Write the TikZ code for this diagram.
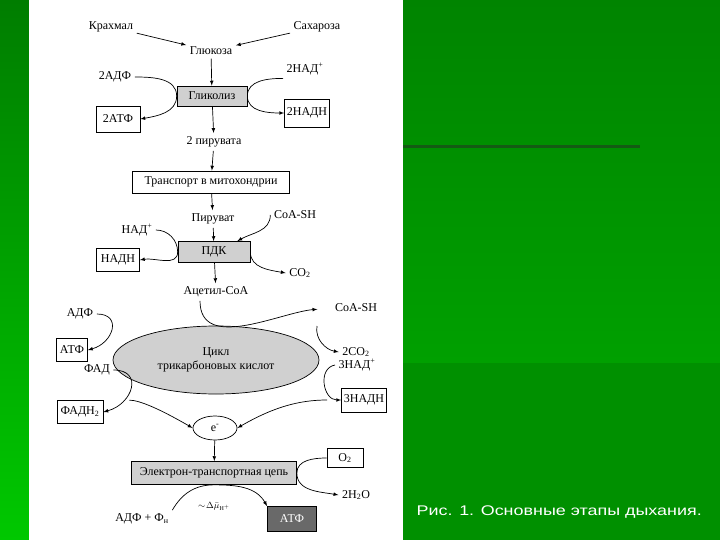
\documentclass[tikz,border=0pt]{standalone}
\usepackage{fontspec}
\setmainfont{Liberation Serif}
\newfontfamily\capfont{Liberation Sans}
\usepackage{tikz}
\usetikzlibrary{shapes.geometric, arrows, positioning}
\definecolor{boxgray}{RGB}{208,208,208}
\definecolor{atpgray}{RGB}{105,105,105}
\definecolor{slidegreen}{RGB}{0,140,0}
\definecolor{stripetop}{RGB}{0,125,0}
\definecolor{stripebot}{RGB}{0,200,0}
\definecolor{slidetop}{RGB}{0,132,0}
\definecolor{slidemid}{RGB}{0,160,0}
\definecolor{slidebot}{RGB}{0,144,0}
\definecolor{slideline}{RGB}{20,90,20}
\tikzset{
  box/.style={draw, rectangle, inner sep=2pt},
  gbox/.style={box, fill=boxgray},
  arr/.style={-latex, line width=0.7pt}
}

\begin{document}
\begin{tikzpicture}[x=1pt, y=-1pt, font=\fontsize{12}{14}\selectfont, line width=0.7pt]
 \useasboundingbox (0,0) rectangle (720,540);
 % slide background
 \fill[slidegreen] (0,0) rectangle (720,540);
 \shade[top color=stripetop, bottom color=stripebot] (0,0) rectangle (29,540);
 \shade[top color=slidetop, bottom color=slidemid] (403,0) rectangle (720,363);
 \fill[slidebot] (403,363) rectangle (720,540);
 \fill[slideline] (403,145) rectangle (640,148);
 \fill[white] (29,0) rectangle (403,540);

 \node (krahmal) at (111,27) {Крахмал};
 \node (sahar) at (317,27) {Сахароза};
 \node (gluc) at (211,51) {Глюкоза};
 \node[gbox, minimum width=70pt, minimum height=20pt] (glyc) at (212,96) {Гликолиз};
 \node (adp2) at (115,77) {2АДФ};
 \node (nad2) at (305,69) {2НАД\textsuperscript{+}};
 \node[box, minimum width=44pt, minimum height=26pt] (atp2) at (118,119) {2АТФ};
 \node[box, minimum width=45pt, minimum height=28pt] (nadh2) at (307,113) {2НАДН};
 \node (pir2) at (214,142) {2 пирувата};
 \node[box, minimum width=157pt, minimum height=22pt] (transp) at (211,182) {Транспорт в митохондрии};
 \node (pir) at (213,219) {Пируват};
 \node[gbox, minimum width=72pt, minimum height=21pt] (pdk) at (214,252) {ПДК};
 \node (coa1) at (295,215) {CoA-SH};
 \node (nad1) at (137,230) {НАД\textsuperscript{+}};
 \node[box, minimum width=43pt, minimum height=23pt] (nadh1) at (118,260) {НАДН};
 \node (co2) at (300,273) {CO\textsubscript{2}};
 \node (acoa) at (216,292) {Ацетил-CoA};
 \node (coa2) at (356,308) {CoA-SH};
 \node (adp) at (80,314) {АДФ};
 \node[box, minimum width=31pt, minimum height=23pt] (atp) at (72,350) {АТФ};
 \node[ellipse, draw, fill=boxgray, minimum width=206pt, minimum height=68pt, align=center] (tca) at (216,360) {Цикл\\трикарбоновых кислот};
 \node (co22) at (356,352) {2CO\textsubscript{2}};
 \node (nad3) at (357,365) {3НАД\textsuperscript{+}};
 \node[box, minimum width=45pt, minimum height=24pt] (nadh3) at (364,400) {3НАДН};
 \node (fad) at (97,370) {ФАД};
 \node[box, minimum width=46pt, minimum height=23pt] (fadh2) at (80,412) {ФАДН\textsubscript{2}};
 \node[ellipse, draw, minimum width=44pt, minimum height=24pt, inner sep=0pt] (el) at (215,428) {e\textsuperscript{-}};
 \node[gbox, minimum width=165pt, minimum height=23pt] (etc) at (214,473) {Электрон-транспортная цепь};
 \node[box, minimum width=36pt, minimum height=19pt] (o2) at (345,458) {O\textsubscript{2}};
 \node (h2o) at (356,495) {2H\textsubscript{2}O};
 \node (adpf) at (142,519) {АДФ + Ф\textsubscript{н}};
 \node[font=\fontsize{9}{10}\selectfont, inner sep=1pt] (dmu) at (214,506) {$\sim\!\Delta\bar{\mu}_{\mathrm{H}^+}$};
 \node[box, fill=atpgray, text=white, minimum width=49pt, minimum height=25pt] (atpd) at (292,519) {АТФ};
 \coordinate (cco2) at (317,326);
 \node[text=white, font=\capfont\fontsize{14}{16}\selectfont, anchor=west, xscale=1.28, transform shape] (cap) at (412,512) {Рис. 1. Основные этапы дыхания.};

 \draw[arr] (krahmal) -- (gluc);
 \draw[arr] (sahar) -- (gluc);
 \draw[arr] (gluc) -- (glyc);
 \draw[arr] (adp2.east) to[out=0,in=90] (glyc.west) to[out=-90,in=10] (atp2.east);
 \draw[arr] (nad2.south west) to[out=180,in=90] (glyc.east) to[out=-90,in=180] (nadh2.west);
 \draw[arr] (glyc) -- (pir2);
 \draw[arr] (pir2) -- (transp);
 \draw[arr] (transp) -- (pir);
 \draw[arr] (pir) -- (pdk);
 \draw[arr] (coa1.west) to[out=-90,in=30] (pdk.25);
 \draw[arr] (nad1.east) to[out=0,in=90] (pdk.west) to[out=-90,in=10] (nadh1.east);
 \draw[arr] (pdk.east) to[out=-90,in=170] (co2.west);
 \draw[arr] (pdk) -- (acoa);
 \draw[arr, shorten >=14pt] ([xshift=-16pt]acoa.south) to[out=-90,in=185] (coa2.west);
 \draw[arr] (adp.east) to[out=0,in=15,looseness=1.8] (atp.east);
 \draw[arr] (fad.east) to[out=0,in=15,looseness=1.8] (fadh2.east);
 \draw[arr] (cco2) to[out=-100,in=170] (co22.west);
 \draw[arr] (nad3.west) to[out=190,in=180,looseness=1.3] (nadh3.west);
 \draw[arr, shorten <=26pt] (fadh2.north east) to[out=0,in=150] (el.west);
 \draw[arr, shorten <=14pt] (nadh3.west) to[out=180,in=30] (el.east);
 \draw[arr] (el) -- (etc);
 \draw[arr] (o2.west) to[out=180,in=90] (etc.east) to[out=-90,in=170] (h2o.west);
 \draw[arr] (adpf.north east) to[out=60,in=180] (etc.south) to[out=0,in=120] (atpd.north west);
\end{tikzpicture}
\end{document}
